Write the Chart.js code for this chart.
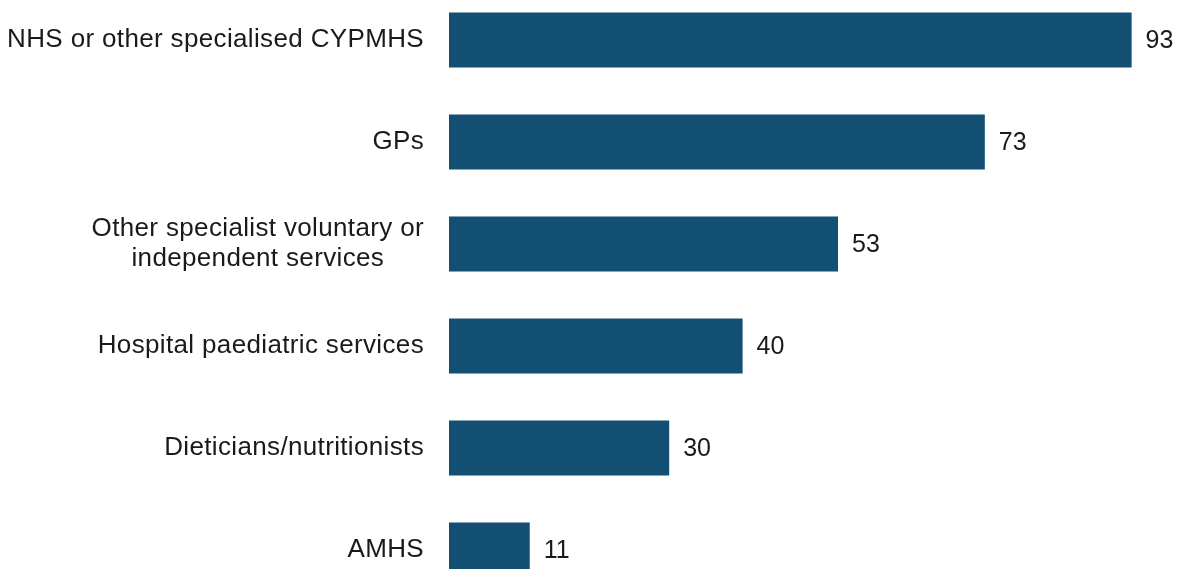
<!DOCTYPE html>
<html lang="en">
<head>
    <meta charset="UTF-8">
    <title>Services</title>
    <script src="https://cdn.jsdelivr.net/npm/chart.js"></script>
    <style>
        html, body { margin: 0; padding: 0; background: #fff; overflow: hidden; width: 1179px; height: 569px; }
        #wrap { position: absolute; left: 0; top: -11px; width: 1183px; height: 612px; }
    </style>
</head>
<body>
    <div id="wrap"><canvas id="servicesChart"></canvas></div>

    <script>
        const categories = [
            ['NHS or other specialised CYPMHS'],
            ['GPs'],
            ['Other specialist voluntary or', 'independent services'],
            ['Hospital paediatric services'],
            ['Dieticians/nutritionists'],
            ['AMHS']
        ];
        const values = [93, 73, 53, 40, 30, 11];

        const LABEL_FONT = '26px "Liberation Sans", Arial, sans-serif';
        const VALUE_FONT = '25px "Liberation Sans", Arial, sans-serif';

        // draw category labels (lines centred inside the block) and value labels
        const labelPlugin = {
            id: 'labelPlugin',
            afterDatasetsDraw(chart) {
                const ctx = chart.ctx;
                const y = chart.scales.y;
                const meta = chart.getDatasetMeta(0);
                ctx.save();
                ctx.fillStyle = '#1a1a1a';
                ctx.textBaseline = 'middle';
                ctx.font = LABEL_FONT;
                ctx.letterSpacing = '0.35px';
                const right = chart.chartArea.left - 25;
                const lh = 30;
                categories.forEach((lines, i) => {
                    const cy = y.getPixelForValue(i);
                    const w = Math.max(...lines.map(l => ctx.measureText(l).width));
                    const cx = right - w / 2;
                    ctx.textAlign = 'center';
                    lines.forEach((l, j) => {
                        ctx.fillText(l, cx, cy + (j - (lines.length - 1) / 2) * lh);
                    });
                });
                ctx.font = VALUE_FONT;
                ctx.letterSpacing = '0px';
                ctx.textAlign = 'left';
                meta.data.forEach((bar, i) => {
                    ctx.fillText(String(values[i]), bar.x + 14, bar.y + 1);
                });
                ctx.restore();
            }
        };

        new Chart(document.getElementById('servicesChart'), {
            type: 'bar',
            data: {
                labels: categories,
                datasets: [{
                    data: values,
                    backgroundColor: '#134f72',
                    barPercentage: 0.54,
                    categoryPercentage: 1
                }]
            },
            options: {
                indexAxis: 'y',
                responsive: true,
                maintainAspectRatio: false,
                animation: false,
                layout: { padding: 0 },
                scales: {
                    x: { display: false, min: 0, max: 100 },
                    y: {
                        grid: { display: false, drawTicks: false },
                        border: { display: false },
                        ticks: { display: false },
                        afterFit(scale) { scale.width = 449; }
                    }
                },
                plugins: {
                    legend: { display: false },
                    tooltip: { enabled: false }
                }
            },
            plugins: [labelPlugin]
        });
    </script>
</body>
</html>
